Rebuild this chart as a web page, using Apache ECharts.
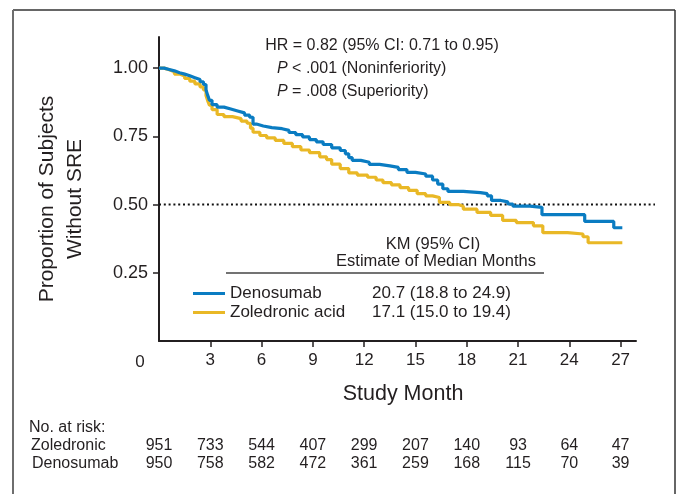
<!DOCTYPE html>
<html>
<head>
<meta charset="utf-8">
<script src="https://cdn.jsdelivr.net/npm/echarts@6/dist/echarts.min.js"></script>
<style>
  html, body { margin: 0; padding: 0; background: #fff; }
  #chart { width: 677px; height: 494px; }
</style>
</head>
<body>
<div id="chart"></div>
<script>
// ---- Data ----
const seriesNames = ['Denosumab', 'Zoledronic acid'];
const medianText = ['20.7 (18.8 to 24.9)', '17.1 (15.0 to 19.4)'];

// Kaplan-Meier step points: month, proportion without SRE
const denosumabMonths = [0, 0.3, 0.6, 0.9, 1.2, 1.5, 1.8, 2.1, 2.4, 2.6, 2.75, 2.85, 2.95, 3.1, 3.4, 3.8, 4.2, 4.6, 5.0, 5.3, 5.5, 5.7, 6.1, 6.6, 7.2, 7.6, 8.0, 8.4, 8.8, 9.2, 9.6, 10.1, 10.6, 10.9, 11.1, 11.3, 11.8, 12.3, 12.9, 13.5, 14.0, 14.5, 15.0, 15.6, 16.0, 16.3, 16.6, 16.9, 17.8, 18.8, 19.2, 19.45, 20.0, 20.4, 20.7, 21.7, 22.4, 24.9, 26.6, 27.1];
const denosumabSurv = [1.0, 0.995, 0.99, 0.983, 0.978, 0.972, 0.965, 0.958, 0.95, 0.94, 0.92, 0.9, 0.882, 0.866, 0.857, 0.85, 0.843, 0.836, 0.828, 0.82, 0.795, 0.788, 0.782, 0.778, 0.772, 0.764, 0.756, 0.748, 0.738, 0.73, 0.72, 0.708, 0.698, 0.686, 0.672, 0.662, 0.655, 0.647, 0.642, 0.636, 0.628, 0.618, 0.612, 0.604, 0.59, 0.575, 0.558, 0.548, 0.544, 0.54, 0.532, 0.515, 0.51, 0.502, 0.494, 0.49, 0.463, 0.438, 0.415, 0.415];

const zoledronicMonths = [0, 0.3, 0.6, 0.9, 1.2, 1.5, 1.8, 2.1, 2.4, 2.6, 2.75, 2.85, 2.95, 3.1, 3.4, 3.8, 4.3, 4.8, 5.15, 5.35, 5.5, 5.9, 6.3, 6.8, 7.3, 7.8, 8.3, 8.8, 9.4, 9.8, 10.1, 10.6, 11.1, 11.6, 12.2, 12.7, 13.1, 13.6, 14.1, 14.6, 15.1, 15.6, 16.0, 16.4, 17.0, 17.5, 17.8, 18.6, 19.4, 20.1, 20.9, 21.9, 22.45, 23.9, 24.8, 25.1, 27.1];
const zoledronicSurv = [1.0, 0.994, 0.987, 0.978, 0.971, 0.962, 0.952, 0.942, 0.931, 0.92, 0.9, 0.88, 0.864, 0.848, 0.83, 0.822, 0.815, 0.806, 0.798, 0.78, 0.765, 0.753, 0.744, 0.735, 0.724, 0.712, 0.7, 0.69, 0.675, 0.665, 0.648, 0.632, 0.616, 0.608, 0.6, 0.59, 0.58, 0.572, 0.562, 0.552, 0.54, 0.532, 0.526, 0.508, 0.5, 0.494, 0.483, 0.471, 0.46, 0.442, 0.434, 0.422, 0.397, 0.392, 0.382, 0.36, 0.36];

const xTickValues = [3, 6, 9, 12, 15, 18, 21, 24, 27];
const yTickValues = [0.25, 0.5, 0.75, 1.0];
const riskMonths = [0, 3, 6, 9, 12, 15, 18, 21, 24, 27];
const riskZoledronic = [951, 733, 544, 407, 299, 207, 140, 93, 64, 47];
const riskDenosumab = [950, 758, 582, 472, 361, 259, 168, 115, 70, 39];
const medianLine = 0.5;

// ---- Styles ----
const BLUE = '#0a7cc2';
const GOLD = '#e9b826';
const INK = '#231f20';
const FONT = "'Liberation Sans', Arial, Helvetica, sans-serif";

const chart = echarts.init(document.getElementById('chart'), null, { renderer: 'canvas' });

const pairs = (xs, ys) => xs.map((x, i) => [x, ys[i]]);

chart.setOption({
  animation: false,
  backgroundColor: '#fff',
  grid: { left: 159, top: 37, width: 477, height: 304, containLabel: false },
  xAxis: {
    type: 'value', min: 0, max: 27.9,
    name: 'Study Month', nameLocation: 'middle', nameGap: 42,
    nameTextStyle: { fontFamily: FONT, fontSize: 21.5, color: INK, padding: [0, 0, 0, 11] },
    axisLine: { show: true, lineStyle: { color: INK, width: 2 } },
    axisTick: { show: true, length: 6, customValues: xTickValues, lineStyle: { color: INK, width: 1.5 } },
    axisLabel: { customValues: xTickValues, margin: 11, fontFamily: FONT, fontSize: 17, color: INK },
    splitLine: { show: false }
  },
  yAxis: {
    type: 'value', min: 0, max: 1.114,
    axisLine: { show: true, lineStyle: { color: INK, width: 2 } },
    axisTick: { show: true, length: 6, customValues: yTickValues, lineStyle: { color: INK, width: 1.5 } },
    axisLabel: { customValues: yTickValues, margin: 11, fontFamily: FONT, fontSize: 18, color: INK,
      formatter: v => v.toFixed(2) },
    splitLine: { show: false }
  },
  legend: {
    orient: 'vertical', left: 188, top: 280,
    data: seriesNames,
    icon: 'rect', itemWidth: 32, itemHeight: 3, itemGap: 2,
    selectedMode: false,
    formatter: name => '{n|' + name + '}{v|' + medianText[seriesNames.indexOf(name)] + '}',
    textStyle: {
      fontFamily: FONT, fontSize: 17, color: INK, padding: [0, 0, 0, 0],
      rich: {
        n: { fontFamily: FONT, fontSize: 17, color: INK, width: 142 },
        v: { fontFamily: FONT, fontSize: 17, color: INK }
      }
    }
  },
  series: [
    {
      name: 'Zoledronic acid', type: 'line', step: 'end', showSymbol: false,
      data: pairs(zoledronicMonths, zoledronicSurv),
      lineStyle: { color: GOLD, width: 3.2 }, itemStyle: { color: GOLD }, z: 2
    },
    {
      name: 'Denosumab', type: 'line', step: 'end', showSymbol: false,
      data: pairs(denosumabMonths, denosumabSurv),
      lineStyle: { color: BLUE, width: 3.2 }, itemStyle: { color: BLUE }, z: 3
    }
  ]
});

// ---- Annotations placed through the axes' own scales ----
const px = m => chart.convertToPixel({ xAxisIndex: 0 }, m);
const py = v => chart.convertToPixel({ yAxisIndex: 0 }, v);

const g = [];
// frame
g.push({ type: 'line', shape: { x1: 13, y1: 10, x2: 675, y2: 10 }, style: { stroke: '#333', lineWidth: 1.5 } });
g.push({ type: 'line', shape: { x1: 13, y1: 10, x2: 13, y2: 494 }, style: { stroke: '#6e6e6e', lineWidth: 2 } });
g.push({ type: 'line', shape: { x1: 675, y1: 10, x2: 675, y2: 494 }, style: { stroke: '#333', lineWidth: 1.5 } });

// dotted median reference line
const y50 = py(medianLine);
g.push({ type: 'line', shape: { x1: px(0), y1: y50, x2: 655, y2: y50 }, style: { stroke: '#111', lineWidth: 2, lineDash: [2, 2.8] }, z: 1 });

// "0" tick label (offset left of axis in the original)
g.push({ type: 'text', x: px(0) - 19, y: 362, style: { text: '0', fontFamily: FONT, fontSize: 17, fill: INK, align: 'center', verticalAlign: 'middle' } });

// y axis title (two lines)
g.push({ type: 'text', x: 61, y: 199, rotation: Math.PI / 2,
  style: { text: 'Proportion of Subjects\nWithout SRE', fontFamily: FONT, fontSize: 21, lineHeight: 28, fill: INK, align: 'center', verticalAlign: 'middle' } });

// statistics text
g.push({ type: 'text', x: 382, y: 46, style: { text: 'HR = 0.82 (95% CI: 0.71 to 0.95)', fontFamily: FONT, fontSize: 16, fill: INK, align: 'center', verticalAlign: 'middle' } });
g.push({ type: 'text', x: 277, y: 69, style: { text: '{i|P} < .001 (Noninferiority)', fontFamily: FONT, fontSize: 16, fill: INK, verticalAlign: 'middle',
  rich: { i: { fontStyle: 'italic', fontFamily: FONT, fontSize: 16, fill: INK } } } });
g.push({ type: 'text', x: 277, y: 92, style: { text: '{i|P} = .008 (Superiority)', fontFamily: FONT, fontSize: 16, fill: INK, verticalAlign: 'middle',
  rich: { i: { fontStyle: 'italic', fontFamily: FONT, fontSize: 16, fill: INK } } } });

// legend header
g.push({ type: 'text', x: 433, y: 244, style: { text: 'KM (95% CI)', fontFamily: FONT, fontSize: 16.5, fill: INK, align: 'center', verticalAlign: 'middle' } });
g.push({ type: 'text', x: 436, y: 261, style: { text: 'Estimate of Median Months', fontFamily: FONT, fontSize: 16.5, fill: INK, align: 'center', verticalAlign: 'middle' } });
g.push({ type: 'line', shape: { x1: 226, y1: 273, x2: 544, y2: 273 }, style: { stroke: '#444', lineWidth: 1.3 } });

// risk table
const tStyle = { fontFamily: FONT, fontSize: 16, fill: INK, verticalAlign: 'middle' };
g.push({ type: 'text', x: 29, y: 428, style: Object.assign({ text: 'No. at risk:' }, tStyle) });
g.push({ type: 'text', x: 31, y: 446, style: Object.assign({ text: 'Zoledronic' }, tStyle) });
g.push({ type: 'text', x: 32, y: 464, style: Object.assign({ text: 'Denosumab' }, tStyle) });
riskMonths.forEach((m, i) => {
  g.push({ type: 'text', x: px(m), y: 446, style: Object.assign({ text: String(riskZoledronic[i]), align: 'center' }, tStyle) });
  g.push({ type: 'text', x: px(m), y: 464, style: Object.assign({ text: String(riskDenosumab[i]), align: 'center' }, tStyle) });
});

chart.setOption({ graphic: { elements: g } });
</script>
</body>
</html>
